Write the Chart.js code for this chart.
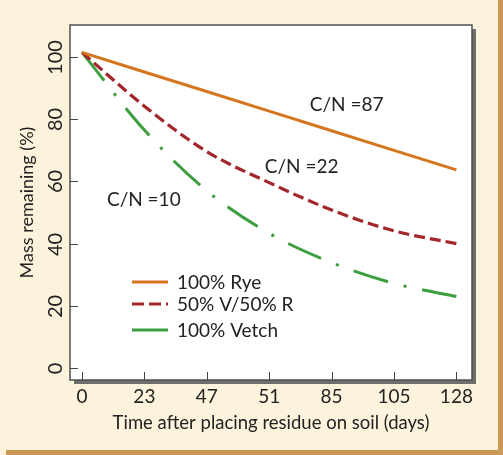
<!DOCTYPE html>
<html>
<head>
<meta charset="utf-8">
<script src="https://cdn.jsdelivr.net/npm/chart.js@4/dist/chart.umd.min.js"></script>
<style>
  html, body { margin: 0; padding: 0; background: #fdf3dc; }
  #wrap { width: 503px; height: 455px; }
</style>
</head>
<body>
<div id="wrap"><canvas id="myChart" width="503" height="455"></canvas></div>
<script>
// x ticks are evenly spaced, labels as printed
const dayLabels = ['0', '23', '47', '51', '85', '105', '128'];
const yTicks = [0, 20, 40, 60, 80, 100];

// mass remaining (%) read at each tick
const ryeValues = [101.5, 95.2, 88.9, 82.6, 76.3, 70.0, 63.7];
const mixValues = [101.5, 84.2, 69.6, 59.6, 50.8, 44.1, 40.0];
const vetchValues = [101.5, 76.5, 57.0, 43.3, 33.9, 27.2, 23.0];

const seriesNames = ['100% Rye', '50% V/50% R', '100% Vetch'];
const cnNotes = ['C/N =87', 'C/N =22', 'C/N =10'];

const FONT = 'Lato, "Open Sans", sans-serif';

function toPoints(vals) {
    return vals.map(function (v, i) { return { x: i, y: v }; });
}

// backgrounds, frame, inward ticks, rotated y labels, legend and notes
const decor = {
    id: 'decor',
    beforeDraw: function (chart) {
        const c = chart.ctx;
        const a = chart.chartArea;
        c.save();
        c.fillStyle = '#fdf3dc';
        c.fillRect(0, 0, chart.width, chart.height);
        c.fillStyle = '#c99a55';
        c.fillRect(chart.width - 5, 0, 5, chart.height);
        c.fillRect(6, chart.height - 5, chart.width, 5);
        // shadow
        c.fillStyle = '#6e6e6e';
        c.fillRect(a.left + 4, a.top + 4, a.right - a.left, a.bottom - a.top);
        c.fillStyle = '#ffffff';
        c.fillRect(a.left, a.top, a.right - a.left, a.bottom - a.top);
        c.restore();
    },
    afterDraw: function (chart) {
        const c = chart.ctx;
        const a = chart.chartArea;
        const xs = chart.scales.x;
        const ys = chart.scales.y;
        c.save();
        c.strokeStyle = '#505050';
        c.lineWidth = 1.5;
        c.strokeRect(a.left, a.top, a.right - a.left, a.bottom - a.top);

        c.lineWidth = 1;
        c.strokeStyle = '#444';
        dayLabels.forEach(function (l, i) {
            const px = Math.round(xs.getPixelForValue(i)) + 0.5;
            c.beginPath();
            c.moveTo(px, a.bottom);
            c.lineTo(px, a.bottom - 8);
            c.stroke();
        });
        c.fillStyle = '#222';
        c.font = '20px ' + FONT;
        c.textAlign = 'center';
        c.textBaseline = 'middle';
        yTicks.forEach(function (v) {
            const py = Math.round(ys.getPixelForValue(v)) + 0.5;
            c.beginPath();
            c.moveTo(a.left, py);
            c.lineTo(a.left + 8, py);
            c.stroke();
            c.save();
            c.translate(a.left - 14, py);
            c.rotate(-Math.PI / 2);
            c.fillText(String(v), 0, 0);
            c.restore();
        });

        // legend
        const rows = [282, 304, 330];
        c.font = '19px ' + FONT;
        c.textAlign = 'left';
        chart.data.datasets.forEach(function (ds, i) {
            c.save();
            c.strokeStyle = ds.borderColor;
            c.lineWidth = 3;
            c.setLineDash(i === 1 ? [12, 5, 12, 5, 3, 100] : []);
            c.beginPath();
            c.moveTo(a.left + 62, rows[i]);
            c.lineTo(a.left + 98, rows[i]);
            c.stroke();
            c.restore();
            c.fillText(ds.label, a.left + 107, rows[i] + 1);
        });

        // C/N notes anchored on the data scales
        const noteAt = [[3.65, 84.6], [2.93, 64.6], [0.40, 54.0]];
        cnNotes.forEach(function (t, i) {
            c.fillText(t, xs.getPixelForValue(noteAt[i][0]), ys.getPixelForValue(noteAt[i][1]));
        });
        c.restore();
    }
};

const ctx = document.getElementById('myChart').getContext('2d');
const myChart = new Chart(ctx, {
    type: 'line',
    data: {
        datasets: [{
            label: seriesNames[0],
            data: toPoints(ryeValues),
            borderColor: '#d4761e',
            borderWidth: 3,
            tension: 0
        }, {
            label: seriesNames[1],
            data: toPoints(mixValues),
            borderColor: '#a3262a',
            borderWidth: 3.2,
            borderDash: [11, 5],
            cubicInterpolationMode: 'monotone'
        }, {
            label: seriesNames[2],
            data: toPoints(vetchValues),
            borderColor: '#3c9e3e',
            borderWidth: 3,
            borderDash: [36, 16, 3, 16],
            cubicInterpolationMode: 'monotone'
        }]
    },
    options: {
        responsive: false,
        animation: false,
        events: [],
        layout: { padding: { top: 25, right: 31, left: 0, bottom: 0 } },
        elements: { point: { radius: 0 } },
        plugins: { legend: { display: false }, tooltip: { enabled: false } },
        scales: {
            x: {
                type: 'linear',
                min: -0.192,
                max: 6.25,
                afterBuildTicks: function (axis) {
                    axis.ticks = dayLabels.map(function (l, i) { return { value: i }; });
                },
                afterFit: function (axis) { axis.height = 75; },
                grid: { display: false, drawTicks: false },
                border: { display: false },
                ticks: {
                    autoSkip: false,
                    maxRotation: 0,
                    padding: 5,
                    color: '#222',
                    font: { family: FONT, size: 19 },
                    callback: function (v, i) { return dayLabels[i]; }
                },
                title: {
                    display: true,
                    text: 'Time after placing residue on soil (days)',
                    color: '#222',
                    font: { family: FONT, size: 18.5 },
                    padding: { top: 0, bottom: 21 }
                }
            },
            y: {
                min: -3.86,
                max: 110.3,
                afterBuildTicks: function (axis) {
                    axis.ticks = yTicks.map(function (v) { return { value: v }; });
                },
                afterFit: function (axis) { axis.width = 70; },
                grid: { display: false, drawTicks: false },
                border: { display: false },
                ticks: { display: false },
                title: {
                    display: true,
                    text: 'Mass remaining (%)',
                    color: '#222',
                    font: { family: FONT, size: 18 },
                    padding: { top: 16, bottom: 0 }
                }
            }
        }
    },
    plugins: [decor]
});
</script>
</body>
</html>
